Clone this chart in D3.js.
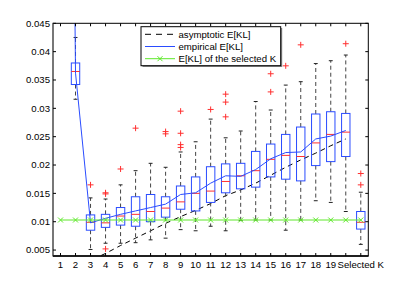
<!DOCTYPE html>
<html>
<head>
<meta charset="utf-8">
<script src="https://cdn.jsdelivr.net/npm/d3@7"></script>
<style>
  body { margin: 0; background: #fff; }
  text { font-family: "Liberation Sans", Arial, sans-serif; }
</style>
</head>
<body>
<svg id="chart"></svg>
<script>
let w = 407;
let h = 301;

// x positions 1..21, position 20 has no label
let xLabels = ["1","2","3","4","5","6","7","8","9","10","11","12","13","14","15","16","17","18","19","","Selected K"];
let yTicks = [0.005, 0.01, 0.015, 0.02, 0.025, 0.03, 0.035, 0.04, 0.045];

// boxplots
let boxPos = [2,3,4,5,6,7,8,9,10,11,12,13,14,15,16,17,18,19,20,21];
let whiskLo = [0.0316,0.0051,0.0062,0.0062,0.0063,0.0068,0.0071,0.0086,0.0084,0.0092,0.0084,0.0102,0.0103,0.0103,0.0085,0.0103,0.0137,0.0134,0.0118,0.0060];
let q1 =      [0.0342,0.0085,0.0090,0.0094,0.0092,0.0100,0.0108,0.0122,0.0119,0.0134,0.0151,0.0158,0.0161,0.0179,0.0175,0.0172,0.0199,0.0206,0.0215,0.0087];
let med =     [0.0365,0.0099,0.0098,0.0110,0.0113,0.0118,0.0124,0.0135,0.0150,0.0154,0.0171,0.0181,0.0190,0.0210,0.0217,0.0215,0.0239,0.0254,0.0258,0.0099];
let q3 =      [0.0380,0.0112,0.0113,0.0125,0.0144,0.0148,0.0144,0.0163,0.0179,0.0197,0.0202,0.0203,0.0224,0.0237,0.0254,0.0267,0.0290,0.0294,0.0291,0.0118];
let whiskHi = [0.0425,0.0142,0.0140,0.0165,0.0190,0.0203,0.0196,0.0223,0.0241,0.0281,0.0248,0.0260,0.0312,0.0297,0.0341,0.0347,0.0379,0.0384,0.0394,0.0152];
let outliers = [[],[0.0165],[0.0151,0.0149,0.0052],[0.0193],[0.0265],[],[0.0259,0.0255],[0.0295,0.0256,0.0236,0.0231],[],[0.0298],[0.0325,0.0311,0.0285],[],[],[0.0361,0.0329],[0.0375],[0.0412],[],[],[0.0414],[0.0185,0.0165]];

// lines
let lineK = [1,2,3,4,5,6,7,8,9,10,11,12,13,14,15,16,17,18,19,20];
let asymptotic = [0.0007,0.0019,0.0032,0.0044,0.0058,0.0071,0.0084,0.0097,0.0109,0.0120,0.0132,0.0146,0.0156,0.0168,0.0182,0.0196,0.0209,0.0221,0.0234,0.0246];
let empirical = [0.30,0.0362,0.0098,0.0106,0.0113,0.0119,0.0125,0.0131,0.0148,0.0151,0.0168,0.0181,0.0180,0.0192,0.0211,0.0222,0.0223,0.0246,0.0251,0.0261];
let selK = [1,2,3,4,5,6,7,8,9,10,11,12,13,14,15,16,17,18,19,20,21];
let selKL = [0.0103,0.0103,0.0103,0.0103,0.0103,0.0103,0.0103,0.0103,0.0103,0.0103,0.0103,0.0103,0.0103,0.0103,0.0103,0.0103,0.0103,0.0103,0.0103,0.0103,0.0103];

let legendNames = ["asymptotic E[KL]", "empirical E[KL]", "E[KL] of the selected K"];

let blue = "#2a4cff", red = "#ff3030", green = "#5ee82a";

let svg = d3.select("#chart").attr("width", w).attr("height", h);
svg.append("rect").attr("width", w).attr("height", h).attr("fill", "#fff");

let xScale = d3.scaleLinear().domain([0.5, 21.5]).range([53, 368.3]);
let yScale = d3.scaleLinear().domain([0.00395, 0.045]).range([256, 23.3]);

svg.append("clipPath").attr("id", "clip")
  .append("rect")
    .attr("x", xScale.range()[0]).attr("y", yScale.range()[1])
    .attr("width", xScale.range()[1] - xScale.range()[0])
    .attr("height", yScale.range()[0] - yScale.range()[1]);

let plot = svg.append("g").attr("clip-path", "url(#clip)");

// asymptotic dashed line
let line = d3.line().x((d) => xScale(d[0])).y((d) => yScale(d[1]));
plot.append("path")
  .attr("d", line(lineK.map((k, i) => [k, asymptotic[i]])))
  .attr("fill", "none").attr("stroke", "#000").attr("stroke-width", 1)
  .attr("stroke-dasharray", "5,4");

// boxes
let halfBox = 0.28, halfCap = 0.13;
let boxes = plot.selectAll("g.box")
  .data(boxPos.map((p, i) => ({p: p, lo: whiskLo[i], q1: q1[i], med: med[i], q3: q3[i], hi: whiskHi[i], out: outliers[i]})))
  .enter().append("g").attr("class", "box");

boxes.append("line")
  .attr("x1", (d) => xScale(d.p)).attr("x2", (d) => xScale(d.p))
  .attr("y1", (d) => yScale(d.q3)).attr("y2", (d) => yScale(d.hi))
  .attr("stroke", "#444").attr("stroke-dasharray", "4,3");
boxes.append("line")
  .attr("x1", (d) => xScale(d.p)).attr("x2", (d) => xScale(d.p))
  .attr("y1", (d) => yScale(d.q1)).attr("y2", (d) => yScale(d.lo))
  .attr("stroke", "#444").attr("stroke-dasharray", "4,3");
["hi", "lo"].forEach((k) => {
  boxes.append("line")
    .attr("x1", (d) => xScale(d.p - halfCap)).attr("x2", (d) => xScale(d.p + halfCap))
    .attr("y1", (d) => yScale(d[k])).attr("y2", (d) => yScale(d[k]))
    .attr("stroke", "#222");
});
boxes.append("rect")
  .attr("x", (d) => xScale(d.p - halfBox))
  .attr("width", (d) => xScale(d.p + halfBox) - xScale(d.p - halfBox))
  .attr("y", (d) => yScale(d.q3))
  .attr("height", (d) => yScale(d.q1) - yScale(d.q3))
  .attr("fill", "none").attr("stroke", blue);
boxes.append("line")
  .attr("x1", (d) => xScale(d.p - halfBox)).attr("x2", (d) => xScale(d.p + halfBox))
  .attr("y1", (d) => yScale(d.med)).attr("y2", (d) => yScale(d.med))
  .attr("stroke", red);
boxes.selectAll("path.out")
  .data((d) => d.out.map((v) => [d.p, v]))
  .enter().append("path")
    .attr("d", (d) => {
      let x = xScale(d[0]), y = yScale(d[1]);
      return `M${x - 3},${y}H${x + 3}M${x},${y - 3}V${y + 3}`;
    })
    .attr("stroke", red).attr("fill", "none");

// empirical line
plot.append("path")
  .attr("d", line(lineK.map((k, i) => [k, empirical[i]])))
  .attr("fill", "none").attr("stroke", blue).attr("stroke-width", 1);

// selected K line
plot.append("path")
  .attr("d", line(selK.map((k, i) => [k, selKL[i]])))
  .attr("fill", "none").attr("stroke", green).attr("stroke-width", 1);
let xMark = (x, y) => `M${x - 2.5},${y - 2.5}L${x + 2.5},${y + 2.5}M${x - 2.5},${y + 2.5}L${x + 2.5},${y - 2.5}`;
plot.selectAll("path.mk")
  .data(selK.map((k, i) => [k, selKL[i]]))
  .enter().append("path")
    .attr("d", (d) => xMark(xScale(d[0]), yScale(d[1])))
    .attr("stroke", green).attr("fill", "none");

// axes box with inward ticks
let x0 = xScale.range()[0], x1 = xScale.range()[1];
let y0 = yScale.range()[0], y1 = yScale.range()[1];
let tl = 3;
let ax = svg.append("g").attr("stroke", "#000").attr("stroke-width", 1);
ax.append("rect").attr("x", x0).attr("y", y1).attr("width", x1 - x0).attr("height", y0 - y1)
  .attr("fill", "none");
ax.append("line").attr("x1", x0).attr("x2", x0).attr("y1", y1).attr("y2", y0)
  .attr("stroke", "#777").attr("stroke-width", 2);
ax.append("line").attr("x1", x0).attr("x2", x1).attr("y1", y0).attr("y2", y0)
  .attr("stroke-width", 1.5);
selK.forEach((k) => {
  ax.append("line").attr("x1", xScale(k)).attr("x2", xScale(k)).attr("y1", y0).attr("y2", y0 - tl);
  ax.append("line").attr("x1", xScale(k)).attr("x2", xScale(k)).attr("y1", y1).attr("y2", y1 + tl);
});
yTicks.forEach((v) => {
  ax.append("line").attr("x1", x0).attr("x2", x0 + tl).attr("y1", yScale(v)).attr("y2", yScale(v));
  ax.append("line").attr("x1", x1).attr("x2", x1 - tl).attr("y1", yScale(v)).attr("y2", yScale(v));
});

svg.append("g").selectAll("text")
  .data(yTicks).enter().append("text")
    .attr("x", x0 - 3).attr("y", (d) => yScale(d)).attr("dy", "0.35em")
    .attr("text-anchor", "end").attr("font-size", "9.6px").attr("fill", "#000")
    .text((d) => d3.format("~g")(d));

svg.append("g").selectAll("text")
  .data(xLabels).enter().append("text")
    .attr("x", (d, i) => xScale(selK[i])).attr("y", y0 + 12)
    .attr("text-anchor", "middle").attr("font-size", "9.6px").attr("fill", "#000")
    .text((d) => d);

// legend
let lg = svg.append("g");
lg.append("rect").attr("x", 142.5).attr("y", 28).attr("width", 139.7).attr("height", 39)
  .attr("fill", "#888");
lg.append("rect").attr("x", 141).attr("y", 26.7).attr("width", 139.7).attr("height", 39)
  .attr("fill", "#fff").attr("stroke", "#000");
let ly = [34.3, 46.5, 58.7];
lg.append("line").attr("x1", 145).attr("x2", 175).attr("y1", ly[0]).attr("y2", ly[0])
  .attr("stroke", "#000").attr("stroke-dasharray", "6,5");
lg.append("line").attr("x1", 145).attr("x2", 175).attr("y1", ly[1]).attr("y2", ly[1])
  .attr("stroke", blue);
lg.append("line").attr("x1", 145).attr("x2", 175).attr("y1", ly[2]).attr("y2", ly[2])
  .attr("stroke", green);
lg.append("path").attr("d", xMark(160, ly[2])).attr("stroke", green).attr("fill", "none");
lg.selectAll("text").data(legendNames).enter().append("text")
  .attr("x", 178.5).attr("y", (d, i) => ly[i]).attr("dy", "0.35em")
  .attr("font-size", "9.6px").attr("fill", "#000")
  .text((d) => d);
</script>
</body>
</html>
